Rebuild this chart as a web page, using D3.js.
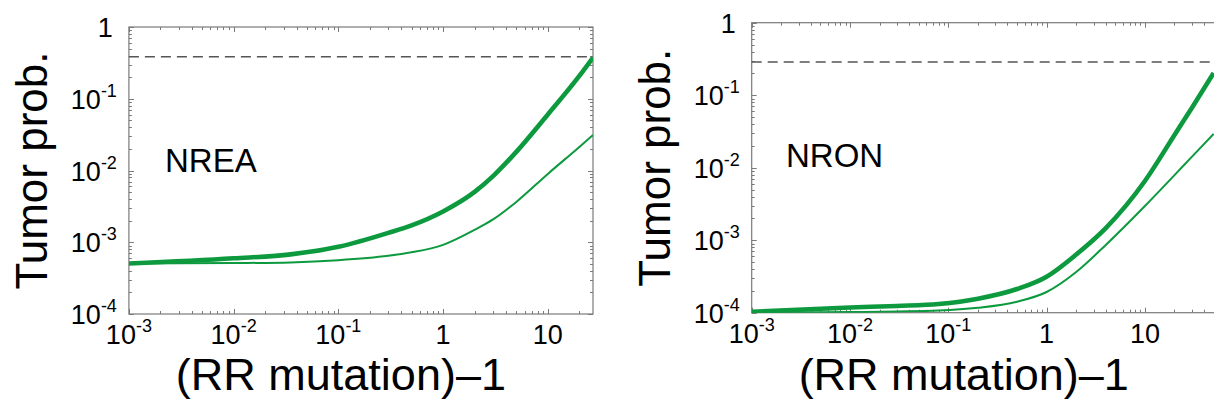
<!DOCTYPE html>
<html>
<head>
<meta charset="utf-8">
<script src="https://cdn.jsdelivr.net/npm/d3@7"></script>
<style>
  html, body { margin: 0; padding: 0; background: #fff; }
  svg { display: block; }
  text { font-family: "Liberation Sans", Arial, Helvetica, sans-serif; fill: #000; }
</style>
</head>
<body>
<svg id="chart" width="1214" height="405"></svg>
<script>
// ---------------- data ----------------
const panelLabels = ["NREA", "NRON"];
const xTitle = "(RR mutation)\u20131";
const yTitle = "Tumor prob.";

// NREA panel
const xNREA = [0.001, 0.01, 0.035, 0.1, 0.3, 0.5, 1, 2, 3, 5, 10, 20, 27];
const thickNREA = [5.05e-4, 5.97e-4, 6.78e-4, 8.63e-4, 1.35e-3, 1.72e-3, 2.69e-3, 5.04e-3, 8.34e-3, 0.0182, 0.0604, 0.208, 0.375];
const thinNREA  = [5.05e-4, 5.13e-4, 5.24e-4, 5.61e-4, 6.46e-4, 7.23e-4, 9.2e-4, 1.49e-3, 2.08e-3, 3.65e-3, 8.97e-3, 0.0213, 0.0313];
const dashNREA = 0.385;

// NRON panel
const xNRON = [0.001, 0.01, 0.03, 0.08, 0.2, 0.5, 1, 2, 4, 10, 20, 30, 50];
const thickNRON = [1.03e-4, 1.18e-4, 1.24e-4, 1.32e-4, 1.56e-4, 2.12e-4, 3.14e-4, 6.35e-4, 1.47e-3, 6.56e-3, 0.0283, 0.0667, 0.202];
const thinNRON  = [1.0e-4, 1.02e-4, 1.04e-4, 1.07e-4, 1.17e-4, 1.42e-4, 1.93e-4, 3.64e-4, 8.6e-4, 2.96e-3, 7.9e-3, 0.0141, 0.0292];
const dashNRON = 0.287;

// axis ticks
const xTickValues = [1e-3, 1e-2, 1e-1, 1, 10];
const xTickLabels = [["10", "-3"], ["10", "-2"], ["10", "-1"], ["1", ""], ["10", ""]];
const yTickValues = [1e-4, 1e-3, 1e-2, 1e-1, 1];
const yTickLabels = [["10", "-4"], ["10", "-3"], ["10", "-2"], ["10", "-1"], ["1", ""]];

// ---------------- drawing ----------------
const svg = d3.select("#chart");
const GREEN = "#0d9a3f";
const AXIS = "#7a7a7a";

function minorTicks(d0, d1) {
  const out = [];
  for (let e = Math.floor(Math.log10(d0)); e <= Math.ceil(Math.log10(d1)); e++) {
    for (let k = 1; k < 10; k++) {
      const v = k * Math.pow(10, e);
      if (v >= d0 * 0.9999 && v <= d1 * 1.0001) out.push(v);
    }
  }
  return out;
}

function drawPanel(cfg) {
  const x = d3.scaleLog().domain(cfg.xDomain).range([cfg.left, cfg.right]);
  const y = d3.scaleLog().domain([1e-4, 1]).range([cfg.bottom, cfg.top]);
  const g = svg.append("g");

  const clipId = "clip" + cfg.id;
  svg.append("clipPath").attr("id", clipId)
    .append("rect").attr("x", cfg.left).attr("y", cfg.top)
    .attr("width", cfg.right - cfg.left).attr("height", cfg.bottom - cfg.top);

  // ticks (inside, all four sides)
  const xMin = minorTicks(cfg.xDomain[0], cfg.xDomain[1]);
  const yMin = minorTicks(1e-4, 1);
  const tg = g.append("g").attr("stroke", AXIS).attr("stroke-width", 1);
  xMin.forEach(v => {
    const major = Math.abs(Math.log10(v) - Math.round(Math.log10(v))) < 1e-9;
    const L = major ? 5 : 3;
    const px = Math.round(x(v)) + 0.5;
    tg.append("line").attr("x1", px).attr("x2", px).attr("y1", cfg.bottom).attr("y2", cfg.bottom - L);
    tg.append("line").attr("x1", px).attr("x2", px).attr("y1", cfg.top).attr("y2", cfg.top + L);
  });
  yMin.forEach(v => {
    const major = Math.abs(Math.log10(v) - Math.round(Math.log10(v))) < 1e-9;
    const L = major ? 5 : 3;
    const py = Math.round(y(v)) + 0.5;
    tg.append("line").attr("x1", cfg.left).attr("x2", cfg.left + L).attr("y1", py).attr("y2", py);
    tg.append("line").attr("x1", cfg.right).attr("x2", cfg.right - L).attr("y1", py).attr("y2", py);
  });

  // frame
  g.append("rect")
    .attr("x", cfg.left).attr("y", cfg.top)
    .attr("width", cfg.right - cfg.left).attr("height", cfg.bottom - cfg.top)
    .attr("fill", "none").attr("stroke", AXIS).attr("stroke-width", 1.2);

  // dashed reference line
  g.append("line")
    .attr("x1", cfg.left).attr("x2", cfg.right)
    .attr("y1", y(cfg.dash)).attr("y2", y(cfg.dash))
    .attr("stroke", "#555").attr("stroke-width", 1.5)
    .attr("stroke-dasharray", "10,6");

  // curves
  const line = d3.line().x(d => x(d[0])).y(d => y(d[1])).curve(d3.curveMonotoneX);
  const lg = g.append("g").attr("clip-path", `url(#${clipId})`);
  lg.append("path").datum(cfg.xs.map((v, i) => [v, cfg.thin[i]]))
    .attr("d", line).attr("fill", "none").attr("stroke", GREEN)
    .attr("stroke-width", 2).attr("stroke-linejoin", "round");
  lg.append("path").datum(cfg.xs.map((v, i) => [v, cfg.thick[i]]))
    .attr("d", line).attr("fill", "none").attr("stroke", GREEN)
    .attr("stroke-width", 4.6).attr("stroke-linejoin", "round");

  // x tick labels
  xTickValues.forEach((v, i) => {
    const t = g.append("text").attr("x", x(v)).attr("y", cfg.bottom + 30)
      .attr("text-anchor", "middle").attr("font-size", 27);
    t.append("tspan").text(xTickLabels[i][0]);
    if (xTickLabels[i][1]) t.append("tspan").attr("font-size", 18).attr("dy", -12).text(xTickLabels[i][1]);
  });
  // y tick labels
  yTickValues.forEach((v, i) => {
    const sup = yTickLabels[i][1];
    const t = g.append("text")
      .attr("x", sup ? cfg.left - 12 : cfg.left - 16)
      .attr("y", y(v) + 10)
      .attr("text-anchor", "end").attr("font-size", 27);
    t.append("tspan").text(yTickLabels[i][0]);
    if (sup) t.append("tspan").attr("font-size", 18).attr("dy", -12).text(sup);
  });

  // axis titles
  g.append("text")
    .attr("transform", `translate(${cfg.left - 82},${(cfg.top + cfg.bottom) / 2}) rotate(-90)`)
    .attr("text-anchor", "middle").attr("font-size", 44).text(yTitle);
  g.append("text")
    .attr("x", cfg.left + 212).attr("y", 390)
    .attr("text-anchor", "middle").attr("font-size", 45).text(xTitle);

  // panel label
  g.append("text").attr("x", cfg.labelX).attr("y", cfg.labelY)
    .attr("font-size", 33).text(cfg.label);
}

drawPanel({
  id: 0, label: panelLabels[0], xs: xNREA, thick: thickNREA, thin: thinNREA, dash: dashNREA,
  xDomain: [1e-3, 27], left: 128.9, right: 593, top: 27, bottom: 314,
  labelX: 165, labelY: 172
});
drawPanel({
  id: 1, label: panelLabels[1], xs: xNRON, thick: thickNRON, thin: thinNRON, dash: dashNRON,
  xDomain: [1e-3, 100], left: 751.7, right: 1243.2, top: 22.7, bottom: 312.7,
  labelX: 786, labelY: 167
});
</script>
</body>
</html>
